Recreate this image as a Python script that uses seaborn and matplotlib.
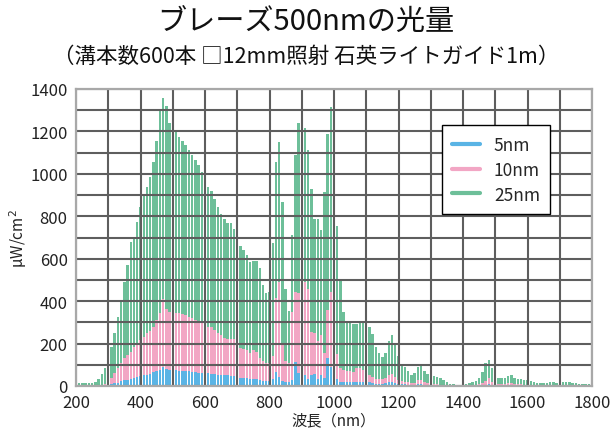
import matplotlib
matplotlib.use("Agg")
import matplotlib.pyplot as plt
from matplotlib.lines import Line2D
from matplotlib.ticker import MultipleLocator
import seaborn as sns

# ---- data (µW/cm², every 10 nm from 200 to 1800 nm) ----
wavelength = list(range(200, 1801, 10))

slit_25nm = [
    15, 16, 16, 15, 15, 16, 20, 31, 57, 83,            # 200-290
    123, 185, 248, 327, 400, 489, 570, 680, 697, 775,  # 300-390
    846, 901, 940, 984, 1055, 1157, 1294, 1357, 1321, 1239,  # 400-490
    1215, 1195, 1173, 1153, 1134, 1113, 1090, 1063, 1042, 1011,  # 500-590
    972, 940, 920, 882, 843, 810, 786, 767, 767, 740,  # 600-690
    700, 660, 641, 619, 583, 590, 590, 556, 478, 437,  # 700-790
    445, 673, 1055, 1152, 866, 456, 354, 712, 1090, 1239,  # 800-890
    1230, 1215, 1113, 928, 786, 786, 736, 913, 1189, 1314,  # 900-990
    1000, 755, 500, 351, 300, 300, 292, 290, 305, 303,  # 1000-1090
    290, 280, 246, 184, 157, 138, 154, 214, 240, 193,  # 1100-1190
    140, 93, 90, 70, 54, 60, 91, 94, 72, 55,           # 1200-1290
    50, 49, 44, 36, 28, 17, 11, 8, 6, 5,               # 1300-1390
    5, 8, 14, 18, 24, 39, 68, 110, 123, 86,            # 1400-1490
    50, 39, 36, 39, 47, 52, 39, 33, 31, 28,            # 1500-1590
    26, 25, 17, 14, 13, 13, 16, 17, 17, 16,            # 1600-1690
    18, 19, 19, 17, 16, 13, 11, 9, 9, 8,               # 1700-1790
    7,                                                 # 1800
]

slit_10nm = [
    2, 2, 2, 2, 2, 2, 3, 3, 5, 10,                     # 200-290
    20, 36, 60, 83, 107, 130, 146, 162, 185, 193,      # 300-390
    215, 233, 248, 261, 280, 311, 346, 409, 362, 350,  # 400-490
    348, 346, 343, 338, 333, 327, 319, 311, 308, 299,  # 500-590
    283, 277, 277, 262, 252, 240, 226, 223, 223, 220,  # 600-690
    200, 178, 175, 170, 157, 170, 160, 130, 118, 110,  # 700-790
    108, 140, 413, 489, 203, 117, 107, 350, 445, 437,  # 800-890
    460, 492, 455, 256, 248, 212, 242, 155, 360, 445,  # 900-990
    300, 150, 83, 75, 72, 72, 68, 83, 83, 75,          # 1000-1090
    60, 52, 44, 33, 31, 31, 36, 52, 58, 41,            # 1100-1190
    30, 24, 20, 18, 13, 14, 27, 28, 17, 13,            # 1200-1290
    10, 9, 8, 6, 5, 4, 3, 2, 2, 2,                     # 1300-1390
    2, 3, 4, 4, 5, 8, 13, 24, 36, 20,                  # 1400-1490
    12, 9, 9, 11, 13, 13, 11, 8, 8, 6,                 # 1500-1590
    5, 5, 4, 4, 3, 3, 4, 4, 4, 4,                      # 1600-1690
    4, 4, 4, 4, 3, 3, 3, 2, 2, 2,                      # 1700-1790
    2,                                                 # 1800
]

slit_5nm = [
    1, 1, 1, 1, 1, 1, 1, 1, 2, 3,                      # 200-290
    5, 8, 12, 16, 22, 27, 30, 35, 38, 43,              # 300-390
    46, 50, 52, 57, 64, 72, 75, 90, 78, 75,            # 400-490
    75, 74, 72, 72, 71, 69, 66, 66, 63, 60,            # 500-590
    60, 60, 57, 55, 53, 52, 50, 50, 49, 49,            # 600-690
    45, 39, 38, 36, 35, 35, 33, 28, 25, 25,            # 700-790
    25, 31, 68, 44, 22, 19, 19, 28, 115, 60,           # 800-890
    55, 52, 31, 52, 57, 31, 52, 36, 130, 91,           # 900-990
    60, 31, 20, 17, 18, 17, 18, 19, 19, 20,            # 1000-1090
    18, 18, 13, 10, 9, 9, 12, 17, 17, 12,              # 1100-1190
    10, 8, 8, 7, 6, 6, 8, 8, 6, 5,                     # 1200-1290
    4, 4, 3, 3, 2, 2, 1, 1, 1, 1,                      # 1300-1390
    1, 1, 1, 1, 1, 1, 3, 6, 8, 5,                      # 1400-1490
    3, 2, 2, 2, 2, 2, 2, 2, 2, 2,                      # 1500-1590
    2, 1, 1, 1, 1, 1, 1, 1, 1, 1,                      # 1600-1690
    1, 1, 1, 1, 1, 1, 1, 1, 1, 1,                      # 1700-1790
    1,                                                 # 1800
]

series_names = ["5nm", "10nm", "25nm"]
palette = {"5nm": "#5AB4E5", "10nm": "#F2A6C4", "25nm": "#6DBF99"}

x_ticks = [200, 400, 600, 800, 1000, 1200, 1400, 1600, 1800]
y_ticks = [0, 200, 400, 600, 800, 1000, 1200, 1400]

title = "ブレーズ500nmの光量"
subtitle = "（溝本数600本 □12mm照射 石英ライトガイド1m）"

# ---- style ----
sns.set_theme(style="white")
plt.rcParams['font.family'] = ['Noto Sans CJK JP', 'DejaVu Sans']

fig = plt.figure(figsize=(6.12, 4.39), dpi=100)
ax = fig.add_axes([76 / 612, 1 - 387 / 439, (592 - 76) / 612, (387 - 90) / 439])

for values, name in [(slit_25nm, "25nm"), (slit_10nm, "10nm"), (slit_5nm, "5nm")]:
    sns.barplot(x=wavelength, y=values, native_scale=True, color=palette[name],
                saturation=1, width=0.75, linewidth=0, errorbar=None, ax=ax)

ax.set_xlim(200, 1800)
ax.set_ylim(0, 1400)
ax.set_xticks(x_ticks)
ax.set_xticklabels([str(v) for v in x_ticks])
ax.set_yticks(y_ticks)
ax.set_yticklabels([str(v) for v in y_ticks])
ax.xaxis.set_minor_locator(MultipleLocator(100))
ax.yaxis.set_minor_locator(MultipleLocator(100))

ax.set_axisbelow(False)
ax.grid(True, which="both", color="#5E5E5E", linewidth=1.5)
ax.tick_params(axis="both", which="both", length=0, labelsize=12, colors="#222222")
ax.tick_params(axis="y", pad=6)
ax.tick_params(axis="x", pad=6)

for side, sp in ax.spines.items():
    sp.set_visible(True)
    sp.set_color("#A8A8A8")
    sp.set_linewidth(1.6)
    sp.set_zorder(4)

ax.set_xlabel("波長（nm）", fontsize=11, labelpad=0, color="#222222")
ax.set_ylabel("μW/cm$^2$", fontsize=11, labelpad=1, color="#222222")

handles = [Line2D([0], [0], color=palette[n], lw=3) for n in series_names]
leg = ax.legend(handles, series_names, loc="upper left", bbox_to_anchor=(0.709, 0.878),
                frameon=True, fancybox=False, edgecolor="black", fontsize=12.5,
                handlelength=1.6, handletextpad=0.8, borderpad=0.6, labelspacing=0.4,
                borderaxespad=0)
leg.get_frame().set_linewidth(1.0)
leg.get_frame().set_facecolor("white")
leg.get_frame().set_alpha(1)
leg.set_zorder(10)

fig.text(0.5, 1 - 22 / 439, title, ha="center", va="center", fontsize=21, color="#111111")
fig.text(0.5, 1 - 57 / 439, subtitle, ha="center", va="center", fontsize=15.5, color="#111111")

fig.savefig("out.png", dpi=100)
